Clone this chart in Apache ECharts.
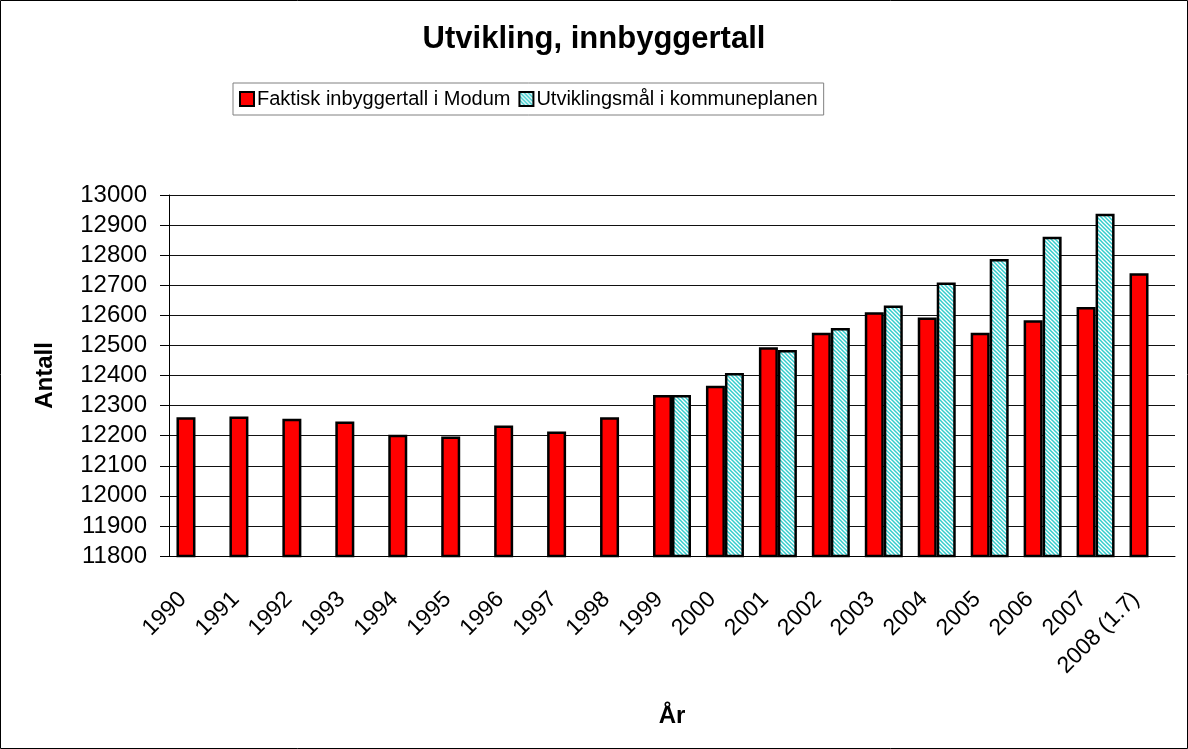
<!DOCTYPE html>
<html>
<head>
<meta charset="utf-8">
<script src="https://cdn.jsdelivr.net/npm/echarts@6/dist/echarts.min.js"></script>
<style>
  html, body { margin: 0; padding: 0; background: #fff; }
  #main { width: 1188px; height: 749px; }
</style>
</head>
<body>
<div id="main"></div>
<script>
var years = ['1990', '1991', '1992', '1993', '1994', '1995', '1996', '1997', '1998', '1999',
  '2000', '2001', '2002', '2003', '2004', '2005', '2006', '2007', '2008 (1.7)']
// faktisk innbyggertall
var faktisk = [12261, 12264, 12256, 12247, 12203, 12197, 12234, 12214, 12261, 12335,
  12366, 12494, 12542, 12610, 12593, 12542, 12584, 12628, 12740]
// utviklingsmål i kommuneplanen
var maal = [null, null, null, null, null, null, null, null, null, 12335,
  12408, 12485, 12558, 12633, 12709, 12787, 12861, 12938, null]
var yTicks = { min: 11800, max: 13000, step: 100 }

var font = 'Liberation Sans, Arial, sans-serif'

// skravur for kommuneplan-søylene
function stripes() {
  var s = 4
  var c = document.createElement('canvas')
  c.width = s
  c.height = s
  var ctx = c.getContext('2d')
  ctx.fillStyle = '#ffffff'
  ctx.fillRect(0, 0, s, s)
  ctx.strokeStyle = '#33CCCC'
  ctx.lineWidth = 1.5
  ;[-s, 0, s].forEach(function (k) {
    ctx.beginPath()
    ctx.moveTo(k - 1, -1)
    ctx.lineTo(k + s + 1, s + 1)
    ctx.stroke()
  })
  return c
}

var chart = echarts.init(document.getElementById('main'))
var option = {
  backgroundColor: '#ffffff',
  animation: false,
  title: {
    text: 'Utvikling, innbyggertall',
    left: 'center',
    top: 19,
    textStyle: { fontFamily: font, fontSize: 31, fontWeight: 'bold', color: '#000' }
  },
  legend: {
    left: 233,
    top: 83,
    padding: [6, 6, 6, 6],
    borderColor: '#808080',
    borderWidth: 1,
    itemWidth: 14,
    itemHeight: 14,
    itemGap: 8,
    icon: 'rect',
    textStyle: { fontFamily: font, fontSize: 20, color: '#000', padding: [0, 0, 0, -2] },
    data: ['Faktisk inbyggertall i Modum', 'Utviklingsmål i kommuneplanen']
  },
  grid: { left: 169, right: 13, top: 195, bottom: 193 },
  xAxis: {
    type: 'category',
    data: years,
    name: 'År',
    nameLocation: 'middle',
    nameGap: 148,
    nameTextStyle: { fontFamily: font, fontSize: 24, fontWeight: 'bold', color: '#000' },
    axisLine: { lineStyle: { color: '#000', width: 1 } },
    axisTick: { length: 8, lineStyle: { color: '#000' } },
    axisLabel: { rotate: 45, margin: 27, padding: [0, 18, 0, 0], fontFamily: font, fontSize: 23, color: '#000' }
  },
  yAxis: {
    type: 'value',
    min: yTicks.min,
    max: yTicks.max,
    interval: yTicks.step,
    name: 'Antall',
    nameLocation: 'middle',
    nameGap: 112,
    nameRotate: 90,
    nameTextStyle: { fontFamily: font, fontSize: 24, fontWeight: 'bold', color: '#000' },
    axisLine: { show: true, lineStyle: { color: '#000', width: 1 } },
    axisTick: { show: true, length: 9, lineStyle: { color: '#000' } },
    axisLabel: {
      margin: 22,
      fontFamily: font,
      fontSize: 24,
      color: '#000',
      formatter: function (v) { return String(v) }
    },
    splitLine: { lineStyle: { color: '#111', width: 1 } }
  },
  series: [{
    name: 'Faktisk inbyggertall i Modum',
    type: 'bar',
    data: faktisk,
    barWidth: 19,
    barGap: '0%',
    itemStyle: { color: '#FF0000', borderColor: '#000', borderWidth: 2.5 },
    emphasis: { disabled: true }
  }, {
    name: 'Utviklingsmål i kommuneplanen',
    type: 'bar',
    data: maal,
    barWidth: 19,
    itemStyle: { color: { image: stripes(), repeat: 'repeat' }, borderColor: '#000', borderWidth: 2.5 },
    emphasis: { disabled: true }
  }],
  graphic: [{
    type: 'rect',
    shape: { x: 0.5, y: 0.5, width: 1187, height: 748 },
    style: { fill: null, stroke: '#000', lineWidth: 1 },
    silent: true
  }]
}
chart.setOption(option)
</script>
</body>
</html>
